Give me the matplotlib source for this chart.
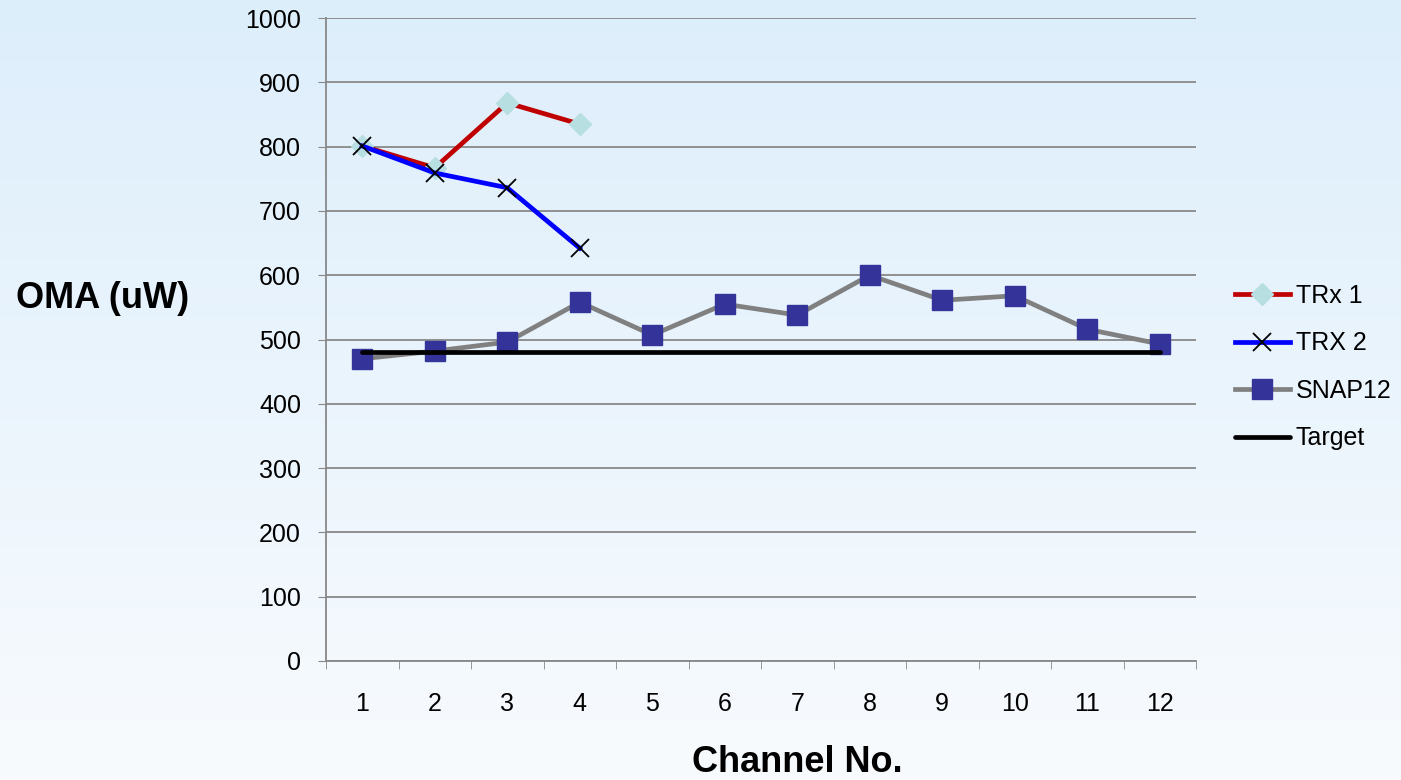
import matplotlib
matplotlib.use("Agg")
import matplotlib.pyplot as plt
import numpy as np

plt.rcParams['font.family'] = ['Liberation Sans', 'DejaVu Sans']

channels = list(range(1, 13))
trx1 = [801, 767, 868, 835]
trx2 = [801, 759, 736, 642]
snap12 = [470, 482, 496, 558, 507, 555, 538, 600, 561, 568, 516, 493]
target = [480] * 12
yticks = list(range(0, 1001, 100))

fig = plt.figure(figsize=(14.01, 7.80), dpi=100)

# background gradient
bg = fig.add_axes([0, 0, 1, 1], zorder=-10)
top = np.array([221, 238, 251]) / 255
bot = np.array([248, 251, 254]) / 255
t = np.linspace(0, 1, 256)[:, None]
grad = top[None, :] * (1 - t) + bot[None, :] * t
bg.imshow(grad[:, None, :], aspect='auto', extent=[0, 1, 0, 1])
bg.axis('off')

ax = fig.add_axes([326 / 1401, 1 - 661 / 780, (1196 - 326) / 1401, (661 - 18) / 780])
ax.set_facecolor('none')

ax.plot(channels[:4], trx1, color='#C00000', lw=3.4, marker='D', ms=11,
        mfc='#B7DEE0', mec='#B7DEE0', label='TRx 1', zorder=3)
ax.plot(channels[:4], trx2, color='#0000FF', lw=3.4, marker='x', ms=13,
        mec='black', mew=1.3, label='TRX 2', zorder=4)
ax.plot(channels, snap12, color='#808080', lw=3.4, marker='s', ms=14.5,
        mfc='#333399', mec='#333399', label='SNAP12', zorder=3)
ax.plot(channels, target, color='black', lw=3.4, label='Target', zorder=5,
        solid_capstyle='round')

ax.set_xlim(0.5, 12.5)
ax.set_ylim(0, 1000)
ax.set_yticks(yticks)
ax.set_yticklabels([str(v) for v in yticks], fontsize=18)
ax.set_xticks(channels)
ax.set_xticklabels([str(c) for c in channels], fontsize=18)
ax.set_xticks(np.arange(0.5, 13, 1), minor=True)
ax.tick_params(axis='x', which='major', length=0, pad=22)
ax.tick_params(axis='x', which='minor', length=6, direction='out', color='#888888')
ax.tick_params(axis='y', length=6, direction='out', color='#888888', pad=12)
ax.grid(axis='y', color='#888888', lw=1.3)
ax.set_axisbelow(True)
for s in ['top', 'right']:
    ax.spines[s].set_visible(False)
for s in ['left', 'bottom']:
    ax.spines[s].set_color('#888888')
    ax.spines[s].set_linewidth(1.3)

fig.text(103 / 1401, 1 - 298 / 780, 'OMA (uW)', fontsize=26, fontweight='bold',
         ha='center', va='center')
fig.text(797 / 1401, 1 - 762 / 780, 'Channel No.', fontsize=26, fontweight='bold',
         ha='center', va='center')

leg = ax.legend(loc='center left', bbox_to_anchor=(1.0448, 0.457), frameon=False,
                fontsize=18, handlelength=2.2, handletextpad=0.24,
                labelspacing=0.94, borderaxespad=0, borderpad=0)

fig.savefig('out.png', dpi=100)
